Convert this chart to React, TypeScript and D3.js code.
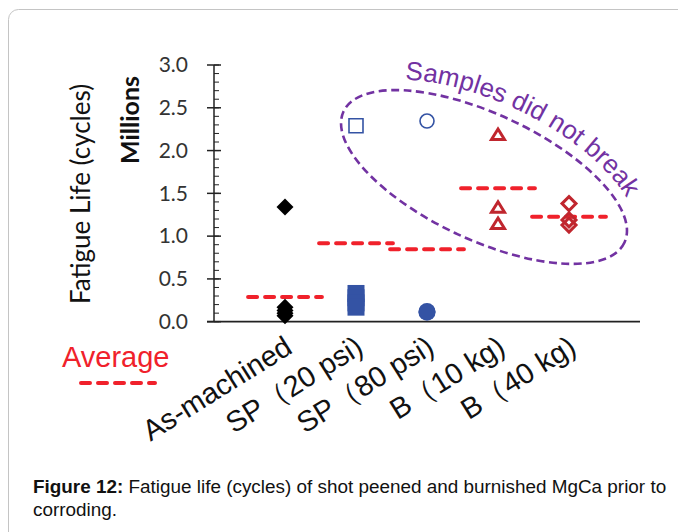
import React from 'react';
import * as d3 from 'd3';

// ---- data ----
const categories = ['As-machined', 'SP（20 psi)', 'SP（80 psi)', 'B（10 kg)', 'B（40 kg)'];
const yTicks = [0, 0.5, 1.0, 1.5, 2.0, 2.5, 3.0];
const asMachined = [1.34, 0.17, 0.13, 0.1, 0.07];
const sp20Broken = [0.33, 0.28, 0.22, 0.17];
const sp20Runout = [2.29];
const sp80Broken = [0.12, 0.11];
const sp80Runout = [2.345];
const b10Runout = [2.19, 1.34, 1.15];
const b40Runout = [1.38, 1.19, 1.13];
const averages = [0.29, 0.916, 0.846, 1.56, 1.227];

const W = 678;
const H = 532;
const RED = '#f0212b';
const DARKRED = '#c0262e';
const BLUE = '#3453a4';
const PURPLE = '#7232a2';
const CAL = "Lato, 'Open Sans', sans-serif";
const ARIAL = "'Liberation Sans', Arial, sans-serif";

const diamond = (r: number) => `M0,${-r}L${r},0L0,${r}L${-r},0Z`;
const square = (s: number) => `M${-s / 2},${-s / 2}h${s}v${s}h${-s}Z`;
const triangle = (w: number, h: number) => `M0,${-h / 2}L${w / 2},${h / 2}L${-w / 2},${h / 2}Z`;

export default function App() {
  const x = d3.scaleLinear().domain([0, 6]).range([214, 640]);
  const y = d3.scaleLinear().domain([0, 3]).range([321.7, 65]);
  const minor = d3.range(0, 3.0001, 0.1);
  const halfW = 0.52;

  // ellipse annotation
  const ec = { cx: 484, cy: 177, rx: 155, ry: 63, rot: 25 };
  const rad = (ec.rot * Math.PI) / 180;
  const ept = (a: number, b: number, tDeg: number) => {
    const t = (tDeg * Math.PI) / 180;
    const px = a * Math.cos(t);
    const py = b * Math.sin(t);
    return [ec.cx + px * Math.cos(rad) - py * Math.sin(rad), ec.cy + px * Math.sin(rad) + py * Math.cos(rad)];
  };
  const ta = 165, tb = 75;
  const s0 = ept(ta, tb, -140);
  const s1 = ept(ta, tb, 10);
  const textArc = `M${s0[0]},${s0[1]} A${ta},${tb} ${ec.rot} 0 1 ${s1[0]},${s1[1]}`;
  const arcOffset = (() => {
    let L = 0;
    let p = ept(ta, tb, -140);
    for (let t = -140; t <= -133; t += 0.25) {
      const q = ept(ta, tb, t);
      L += Math.hypot(q[0] - p[0], q[1] - p[1]);
      p = q;
    }
    return L;
  })();

  const avgLine = (i: number, v: number) => (
    <line key={'avg' + i} x1={x(i + 1 - halfW)} x2={x(i + 1 + halfW)} y1={y(v)} y2={y(v)}
      stroke={RED} strokeWidth={4} strokeDasharray="9,8" strokeLinecap="round" />
  );

  return (
    <svg width={W} height={H} style={{ position: 'absolute', left: 0, top: 0, background: '#fff' }}>
      <rect x={8.5} y={9.5} width={720} height={580} rx={10} fill="none" stroke="#c4c4c4" strokeWidth={1} />

      {/* y axis */}
      <line x1={x(0)} x2={x(0)} y1={y(3)} y2={y(0)} stroke="#222" strokeWidth={1.5} />
      {minor.map((v, i) => (
        <line key={'mn' + i} x1={x(0)} x2={x(0) + 5} y1={y(v)} y2={y(v)} stroke="#222" strokeWidth={1} />
      ))}
      {yTicks.map((v) => (
        <g key={'yt' + v}>
          <line x1={x(0) - 7} x2={x(0) + 7} y1={y(v)} y2={y(v)} stroke="#222" strokeWidth={1.5} />
          <text x={188} y={y(v)} dy="0.35em" textAnchor="end" fontFamily={CAL} fontSize={21} fill="#333">
            {v.toFixed(1)}
          </text>
        </g>
      ))}
      {/* x axis */}
      <line x1={x(0) - 7} x2={x(6)} y1={y(0)} y2={y(0)} stroke="#222" strokeWidth={1.8} />

      {/* axis titles */}
      <text transform={`translate(90,${194}) rotate(-90)`} textAnchor="middle" fontFamily={CAL} fontSize={26} fill="#111">
        Fatigue Life (cycles)
      </text>
      <text transform={`translate(139,${120}) rotate(-90)`} textAnchor="middle" fontFamily={CAL} fontSize={25} fontWeight={700} fill="#111">
        Millions
      </text>

      {/* category labels */}
      {categories.map((c, i) => (
        <text key={c} transform={`translate(${x(i + 1) + 9},352) rotate(-32)`} textAnchor="end"
          fontFamily={ARIAL} fontSize={29} fill="#111">
          {c}
        </text>
      ))}

      {/* averages */}
      {averages.map((v, i) => avgLine(i, v))}

      {/* As-machined: filled black diamonds */}
      {asMachined.map((v, i) => (
        <path key={'am' + i} d={diamond(8.5)} transform={`translate(${x(1)},${y(v)})`} fill="#000" />
      ))}
      {/* SP 20 psi */}
      {sp20Broken.map((v, i) => (
        <path key={'s20' + i} d={square(17)} transform={`translate(${x(2)},${y(v)})`} fill={BLUE} />
      ))}
      {sp20Runout.map((v, i) => (
        <path key={'s20r' + i} d={square(14)} transform={`translate(${x(2)},${y(v)})`} fill="none" stroke={BLUE} strokeWidth={1.6} />
      ))}
      {/* SP 80 psi */}
      {sp80Broken.map((v, i) => (
        <circle key={'s80' + i} cx={x(3)} cy={y(v)} r={8.5} fill={BLUE} />
      ))}
      {sp80Runout.map((v, i) => (
        <circle key={'s80r' + i} cx={x(3)} cy={y(v)} r={7} fill="none" stroke={BLUE} strokeWidth={1.6} />
      ))}
      {/* B 10 kg */}
      {b10Runout.map((v, i) => (
        <path key={'b10' + i} d={triangle(13, 10.5)} transform={`translate(${x(4)},${y(v)})`} fill="none" stroke={DARKRED} strokeWidth={3} />
      ))}
      {/* B 40 kg */}
      {b40Runout.map((v, i) => (
        <path key={'b40' + i} d={diamond(7)} transform={`translate(${x(5)},${y(v)})`} fill="none" stroke={DARKRED} strokeWidth={3} />
      ))}

      {/* ellipse annotation */}
      <ellipse cx={ec.cx} cy={ec.cy} rx={ec.rx} ry={ec.ry} transform={`rotate(${ec.rot},${ec.cx},${ec.cy})`}
        fill="none" stroke={PURPLE} strokeWidth={2.6} strokeDasharray="8,4.5" />
      <path id="arcText" d={textArc} fill="none" stroke="none" />
      <text fontFamily={ARIAL} fontSize={26} fill={PURPLE}>
        <textPath href="#arcText" startOffset={arcOffset}>Samples did not break</textPath>
      </text>

      {/* legend */}
      <text x={62} y={367} fontFamily={ARIAL} fontSize={29} fill={RED}>Average</text>
      <line x1={81} x2={155} y1={383} y2={383} stroke={RED} strokeWidth={4} strokeDasharray="9,8" strokeLinecap="round" />

      {/* caption */}
      <text x={33} y={493} fontFamily={ARIAL} fontSize={18.9} fill="#111">
        <tspan fontWeight={700}>Figure 12:</tspan> Fatigue life (cycles) of shot peened and burnished MgCa prior to
      </text>
      <text x={33} y={516} fontFamily={ARIAL} fontSize={18.9} fill="#111">corroding.</text>
    </svg>
  );
}
